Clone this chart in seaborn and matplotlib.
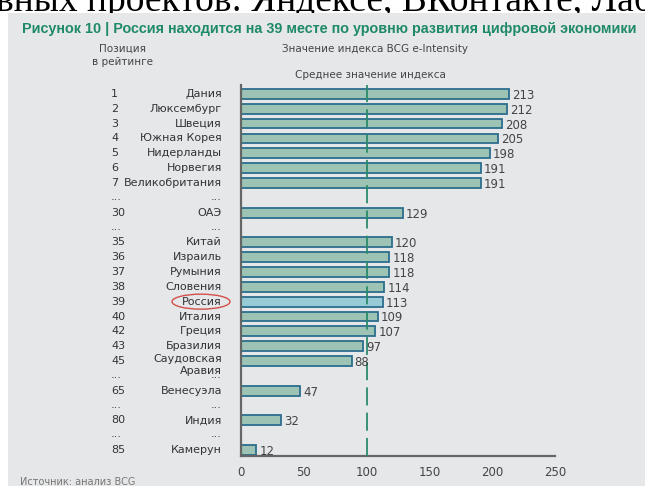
import matplotlib
matplotlib.use("Agg")
import matplotlib.pyplot as plt
import matplotlib.transforms as mtransforms
from matplotlib.patches import Ellipse, Rectangle
import seaborn as sns
import pandas as pd

# chart data
ranks = ["1", "2", "3", "4", "5", "6", "7", "30", "35", "36", "37", "38", "39",
         "40", "42", "43", "45", "65", "80", "85"]
countries = ["Дания", "Люксембург", "Швеция", "Южная Корея", "Нидерланды", "Норвегия",
             "Великобритания", "ОАЭ", "Китай", "Израиль", "Румыния", "Словения", "Россия",
             "Италия", "Греция", "Бразилия", "Саудовская\nАравия", "Венесуэла", "Индия", "Камерун"]
values = [213, 212, 208, 205, 198, 191, 191, 129, 120, 118, 118, 114, 113,
          109, 107, 97, 88, 47, 32, 12]
gaps_before = ["30", "35", "65", "80", "85"]   # a "..." row comes before these ranks
average = 100
highlight = "Россия"

title = "Рисунок 10 | Россия находится на 39 месте по уровню развития цифровой экономики"
header_rank = "Позиция\nв рейтинге"
header_value = "Значение индекса BCG e-Intensity"
avg_label = "Среднее значение индекса"
source = "Источник: анализ BCG"
above_text = "вных проектов: Яндексе, ВКонтакте, Лабо"

# row layout with "..." spacer rows
rows, gap_rows = [], []
r = 0
for rk in ranks:
    if rk in gaps_before:
        gap_rows.append(r)
        r += 1
    rows.append(r)
    r += 1

df = pd.DataFrame({"row": rows, "country": countries, "value": values})
df["kind"] = ["hl" if c == highlight else "normal" for c in countries]

W, H = 645, 486
fig = plt.figure(figsize=(W / 100, H / 100), dpi=100)
fig.patch.set_facecolor("white")
bg = "#e6e7e9"
fig.patches.append(Rectangle((8 / W, 0), 1, 1 - 13 / H, transform=fig.transFigure,
                             facecolor=bg, edgecolor="none", zorder=-10))

ax = fig.add_axes([241 / W, 1 - 456 / H, 314 / W, 371 / H])
ax.set_facecolor("none")

sns.barplot(data=df, x="value", y="row", hue="kind", orient="h", native_scale=True,
            palette={"normal": "#95c9b6", "hl": "#8dd2df"}, edgecolor="#2b6e8e",
            linewidth=1.3, width=0.66, legend=False, ax=ax, zorder=2)

ax.axvline(average, color="#2a8a6a", lw=1.3, dashes=(10, 4), zorder=3)

ax.set_xlim(0, 250)
ax.set_ylim(24.4, -0.6)
ax.set_xticks([0, 50, 100, 150, 200, 250])
ax.tick_params(axis="x", length=0, labelsize=8.5, labelcolor="#444444", pad=7)
ax.set_yticks([])
ax.set_xlabel("")
ax.set_ylabel("")
for s in ["top", "right"]:
    ax.spines[s].set_visible(False)
for s in ["left", "bottom"]:
    ax.spines[s].set_color("#666666")
    ax.spines[s].set_linewidth(1.6)

for rw, v in zip(rows, values):
    ax.text(v + 2.5, rw + 0.1, str(v), va="center", ha="left", fontsize=8.5, color="#444444")

# row labels in figure x / data y
tr = mtransforms.blended_transform_factory(fig.transFigure, ax.transData)
rank_x, name_x = 111 / W, 222 / W
lab_kw = dict(fontsize=8, color="#333333", transform=tr)
for rw, rk, c in zip(rows, ranks, countries):
    ax.text(rank_x, rw, rk, ha="left", va="center", **lab_kw)
    if "\n" in c:
        ax.text(name_x, rw - 0.5, c, ha="right", va="top", linespacing=1.3, **lab_kw)
    else:
        ax.text(name_x, rw, c, ha="right", va="center", **lab_kw)
for g in gap_rows:
    ax.text(rank_x, g - 0.05, "...", ha="left", va="center", **lab_kw)
    ax.text(name_x, g - 0.05, "...", ha="right", va="center", **lab_kw)

# highlight ellipse around Russia
ry = rows[countries.index(highlight)]
cy = ax.transData.transform((0, ry))[1] / H
fig.patches.append(Ellipse((201 / W, cy), 58 / W, 15 / H, transform=fig.transFigure,
                           fill=False, edgecolor="#d2504a", lw=1.0))

# headers and titles
fig.text(122 / W, 1 - 55 / H, header_rank, ha="center", va="center", fontsize=7.5,
         color="#444444", linespacing=1.45)
fig.text(375 / W, 1 - 49 / H, header_value, ha="center", va="center", fontsize=7.5, color="#444444")
fig.text(370 / W, 1 - 75 / H, avg_label, ha="center", va="center", fontsize=7.5, color="#444444")
fig.text(22 / W, 1 - 29 / H, title, ha="left", va="center", fontsize=10.4, color="#1f8a67",
         weight="bold", family=["Liberation Sans", "DejaVu Sans"])
fig.text(20 / W, 1 - 485 / H, source, ha="left", va="baseline", fontsize=7, color="#777777")
# piece of the page text above the figure, partly hidden by the grey panel
fig.text(-4 / W, 1 - 11 / H, above_text, ha="left", va="baseline", fontsize=27,
         color="black", family=["Liberation Serif", "DejaVu Serif"], zorder=-20)

fig.savefig("out.png", dpi=100)
